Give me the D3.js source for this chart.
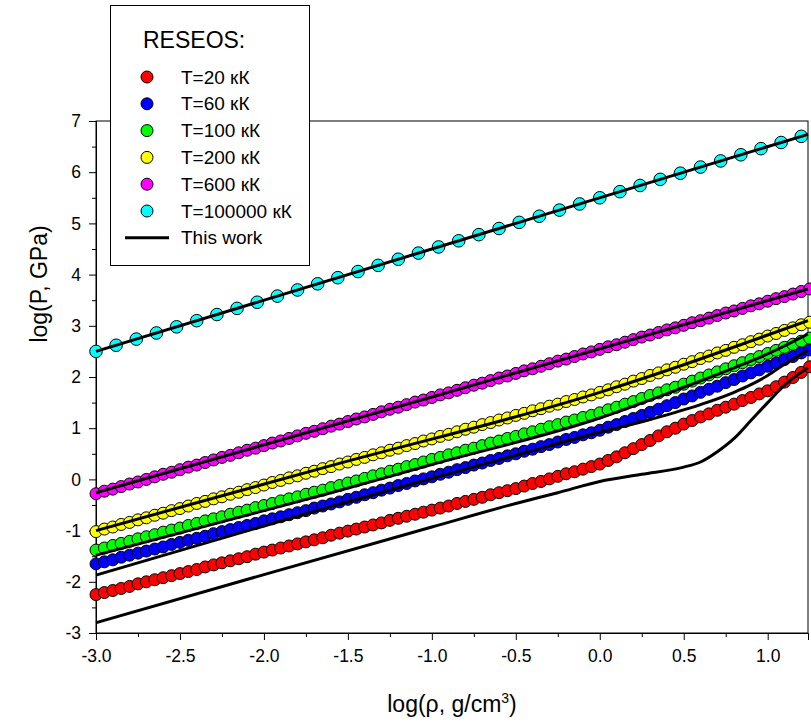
<!DOCTYPE html>
<html>
<head>
<meta charset="utf-8">
<script src="https://cdn.jsdelivr.net/npm/d3@7"></script>
<style>
  body { margin: 0; background: #fff; }
  text { font-family: "Liberation Sans", Arial, sans-serif; fill: #000; }
</style>
</head>
<body>
<svg id="chart" width="811" height="725"></svg>
<script>
// log10 density grid of the RESEOS isotherms, g/cm^3
const logRho = [
  -3.00,-2.95,-2.90,-2.85,-2.80,-2.75,-2.70,-2.65,-2.60,-2.55,-2.50,-2.45,-2.40,-2.35,-2.30,-2.25,-2.20,-2.15,-2.10,-2.05,
  -2.00,-1.95,-1.90,-1.85,-1.80,-1.75,-1.70,-1.65,-1.60,-1.55,-1.50,-1.45,-1.40,-1.35,-1.30,-1.25,-1.20,-1.15,-1.10,-1.05,
  -1.00,-0.95,-0.90,-0.85,-0.80,-0.75,-0.70,-0.65,-0.60,-0.55,-0.50,-0.45,-0.40,-0.35,-0.30,-0.25,-0.20,-0.15,-0.10,-0.05,
   0.00, 0.05, 0.10, 0.15, 0.20, 0.25, 0.30, 0.35, 0.40, 0.45, 0.50, 0.55, 0.60, 0.65, 0.70, 0.75, 0.80, 0.85, 0.90, 0.95,
   1.00, 1.05, 1.10, 1.15, 1.20, 1.25
];

// log10 pressure (GPa), RESEOS isotherms
const p20 = [
  -2.25,-2.21,-2.17,-2.13,-2.09,-2.04,-2.00,-1.96,-1.92,-1.88,-1.84,-1.80,-1.76,-1.71,-1.67,-1.63,-1.59,-1.55,-1.51,-1.46,
  -1.42,-1.38,-1.34,-1.30,-1.26,-1.22,-1.18,-1.14,-1.09,-1.05,-1.01,-0.97,-0.93,-0.89,-0.85,-0.80,-0.76,-0.72,-0.68,-0.64,
  -0.60,-0.56,-0.52,-0.47,-0.43,-0.39,-0.35,-0.30,-0.26,-0.22,-0.18,-0.13,-0.08,-0.04, 0.01, 0.06, 0.11, 0.15, 0.20, 0.25,
   0.30, 0.37, 0.44, 0.52, 0.60, 0.68, 0.76, 0.85, 0.93, 1.00, 1.08, 1.15, 1.22, 1.28, 1.35, 1.41, 1.47, 1.54, 1.60, 1.67,
   1.73, 1.81, 1.90, 1.99, 2.09, 2.20
];
const p60 = [
  -1.65,-1.61,-1.57,-1.52,-1.48,-1.44,-1.40,-1.36,-1.32,-1.27,-1.23,-1.19,-1.15,-1.11,-1.06,-1.02,-0.98,-0.94,-0.90,-0.86,
  -0.81,-0.77,-0.73,-0.69,-0.65,-0.61,-0.56,-0.52,-0.48,-0.44,-0.39,-0.35,-0.30,-0.26,-0.21,-0.17,-0.12,-0.08,-0.03, 0.01,
   0.05, 0.10, 0.14, 0.19, 0.23, 0.28, 0.32, 0.37, 0.41, 0.46, 0.50, 0.55, 0.59, 0.64, 0.68, 0.73, 0.78, 0.82, 0.87, 0.91,
   0.96, 1.02, 1.07, 1.13, 1.19, 1.25, 1.31, 1.37, 1.44, 1.50, 1.57, 1.63, 1.70, 1.76, 1.82, 1.89, 1.95, 2.02, 2.08, 2.14,
   2.21, 2.27, 2.34, 2.40, 2.47, 2.53
];
const p100 = [
  -1.38,-1.34,-1.29,-1.25,-1.21,-1.16,-1.12,-1.08,-1.03,-0.99,-0.95,-0.90,-0.86,-0.81,-0.77,-0.73,-0.68,-0.64,-0.60,-0.55,
  -0.51,-0.47,-0.42,-0.38,-0.34,-0.29,-0.25,-0.21,-0.16,-0.12,-0.07,-0.03, 0.02, 0.07, 0.11, 0.16, 0.20, 0.25, 0.29, 0.34,
   0.39, 0.43, 0.48, 0.52, 0.57, 0.61, 0.66, 0.71, 0.75, 0.80, 0.84, 0.89, 0.93, 0.98, 1.03, 1.07, 1.12, 1.16, 1.21, 1.25,
   1.30, 1.36, 1.41, 1.47, 1.52, 1.58, 1.64, 1.69, 1.75, 1.80, 1.86, 1.92, 1.98, 2.04, 2.10, 2.16, 2.22, 2.28, 2.34, 2.40,
   2.46, 2.52, 2.58, 2.64, 2.70, 2.76
];
const p200 = [
  -1.02,-0.97,-0.93,-0.88,-0.84,-0.79,-0.75,-0.70,-0.66,-0.61,-0.57,-0.52,-0.47,-0.43,-0.38,-0.34,-0.29,-0.25,-0.20,-0.16,
  -0.11,-0.06,-0.02, 0.03, 0.07, 0.12, 0.16, 0.21, 0.25, 0.30, 0.34, 0.39, 0.43, 0.48, 0.52, 0.57, 0.61, 0.66, 0.70, 0.75,
   0.79, 0.84, 0.88, 0.93, 0.98, 1.02, 1.07, 1.11, 1.16, 1.20, 1.25, 1.29, 1.34, 1.38, 1.43, 1.47, 1.52, 1.56, 1.61, 1.65,
   1.70, 1.75, 1.81, 1.86, 1.92, 1.97, 2.03, 2.08, 2.14, 2.19, 2.25, 2.30, 2.36, 2.41, 2.47, 2.52, 2.58, 2.63, 2.69, 2.74,
   2.80, 2.85, 2.91, 2.96, 3.02, 3.07
];
const p600 = [
  -0.28,-0.23,-0.19,-0.14,-0.09,-0.05, 0.00, 0.05, 0.10, 0.14, 0.19, 0.24, 0.28, 0.33, 0.38, 0.43, 0.47, 0.52, 0.57, 0.61,
   0.66, 0.71, 0.75, 0.80, 0.85, 0.90, 0.94, 0.99, 1.04, 1.08, 1.13, 1.18, 1.22, 1.27, 1.32, 1.37, 1.41, 1.46, 1.51, 1.55,
   1.60, 1.65, 1.69, 1.74, 1.79, 1.84, 1.88, 1.93, 1.98, 2.02, 2.07, 2.12, 2.16, 2.21, 2.26, 2.31, 2.35, 2.40, 2.45, 2.49,
   2.54, 2.59, 2.63, 2.68, 2.73, 2.78, 2.82, 2.87, 2.92, 2.96, 3.01, 3.06, 3.10, 3.15, 3.20, 3.25, 3.29, 3.34, 3.39, 3.43,
   3.48, 3.53, 3.57, 3.62, 3.67, 3.72
];

// the 100000 kK isotherm is tabulated on a coarser grid
const logRhoHot = [
  -3.00,-2.88,-2.76,-2.64,-2.52,-2.40,-2.28,-2.16,-2.04,-1.92,-1.80,-1.68,-1.56,-1.44,-1.32,-1.20,-1.08,-0.96,
  -0.84,-0.72,-0.60,-0.48,-0.36,-0.24,-0.12, 0.00, 0.12, 0.24, 0.36, 0.48, 0.60, 0.72, 0.84, 0.96, 1.08, 1.20
];
const p100000 = [
   2.50, 2.62, 2.74, 2.86, 2.98, 3.10, 3.22, 3.34, 3.46, 3.58, 3.70, 3.82, 3.94, 4.06, 4.18, 4.30, 4.42, 4.54,
   4.66, 4.78, 4.90, 5.02, 5.14, 5.26, 5.38, 5.50, 5.62, 5.74, 5.86, 5.98, 6.10, 6.22, 6.34, 6.46, 6.58, 6.70
];

// "This work" isotherms
const fit20Rho   = [-3.00,-2.00,-1.00,-0.50,-0.25, 0.00, 0.25, 0.50, 0.60, 0.70, 0.80, 0.90, 1.00, 1.10, 1.24];
const fit20P     = [-2.80,-1.86,-0.93,-0.47,-0.26,-0.04, 0.10, 0.24, 0.34, 0.54, 0.80, 1.15, 1.50, 1.84, 2.18];
const fit60Rho   = [-3.00,-2.00,-1.60,-1.00,-0.50, 0.00, 0.30, 0.60, 0.80, 0.90, 1.00, 1.10, 1.24];
const fit60P     = [-1.87,-0.91,-0.53, 0.02, 0.47, 0.92, 1.17, 1.46, 1.70, 1.85, 2.03, 2.25, 2.52];
const fit100Rho  = [-3.00,-2.00,-1.60,-1.00, 0.00, 0.50, 0.80, 1.00, 1.24];
const fit100P    = [-1.48,-0.61,-0.26, 0.29, 1.20, 1.80, 2.18, 2.45, 2.84];
const fit200Rho  = [-3.00,-1.60, 0.00, 0.50, 1.00, 1.24];
const fit200P    = [-1.00, 0.27, 1.70, 2.24, 2.82, 3.10];
const fit600Rho  = [-3.00,-1.00, 1.24];
const fit600P    = [-0.26, 1.61, 3.72];
const fit1e5Rho  = [-3.00, 1.24];
const fit1e5P    = [ 2.50, 6.74];

const seriesLabels = ["T=20 кК", "T=60 кК", "T=100 кК", "T=200 кК", "T=600 кК", "T=100000 кК"];
const seriesColors = ["#ff0000", "#0000ff", "#00ff00", "#ffff00", "#ff00ff", "#00ffff"];

const xMajor = [-3.0, -2.5, -2.0, -1.5, -1.0, -0.5, 0.0, 0.5, 1.0];
const xMajorLabels = ["-3.0", "-2.5", "-2.0", "-1.5", "-1.0", "-0.5", "0.0", "0.5", "1.0"];
const xMinor = [-2.75, -2.25, -1.75, -1.25, -0.75, -0.25, 0.25, 0.75];
const yMajor = [-3, -2, -1, 0, 1, 2, 3, 4, 5, 6, 7];
const yMajorLabels = ["-3", "-2", "-1", "0", "1", "2", "3", "4", "5", "6", "7"];
const yMinor = [-2.5, -1.5, -0.5, 0.5, 1.5, 2.5, 3.5, 4.5, 5.5, 6.5];

const svg = d3.select("#chart");
const x = d3.scaleLinear().domain([-3, 1.24]).range([96, 808]);
const y = d3.scaleLinear().domain([-3, 7]).range([633, 121]);

// frame
svg.append("rect")
  .attr("x", x(-3)).attr("y", y(7))
  .attr("width", x(1.24) - x(-3)).attr("height", y(-3) - y(7))
  .attr("fill", "none").attr("stroke", "#000").attr("stroke-width", 1);

// axes
const gx = svg.append("g").attr("transform", `translate(0,${y(-3)})`);
gx.call(d3.axisBottom(x).tickValues(xMajor).tickSize(7).tickPadding(10)
  .tickFormat((d, i) => xMajorLabels[i]));
gx.append("g").call(d3.axisBottom(x).tickValues(xMinor).tickSize(4).tickFormat(""));
const gy = svg.append("g").attr("transform", `translate(${x(-3)},0)`);
gy.call(d3.axisLeft(y).tickValues(yMajor).tickSize(7).tickPadding(8)
  .tickFormat((d, i) => yMajorLabels[i]));
gy.append("g").call(d3.axisLeft(y).tickValues(yMinor).tickSize(4).tickFormat(""));
svg.selectAll(".domain").attr("stroke", "#000");
svg.selectAll(".tick line").attr("stroke", "#000");
svg.selectAll(".tick text").style("font-size", "17.5px")
  .style("font-family", '"Liberation Sans", Arial, sans-serif');

// axis titles
svg.append("text")
  .attr("transform", `translate(47,${284}) rotate(-90)`)
  .attr("text-anchor", "middle")
  .style("font-size", "23px")
  .text("log(P, GPa)");
const xt = svg.append("text")
  .attr("x", 452).attr("y", 712)
  .attr("text-anchor", "middle")
  .style("font-size", "23px");
xt.append("tspan").text("log(ρ, g/cm");
xt.append("tspan").attr("dy", -9).style("font-size", "14px").text("3");
xt.append("tspan").attr("dy", 9).text(")");

// RESEOS markers
const markerSets = [
  { rho: logRho, p: p20, r: 6 },
  { rho: logRho, p: p60, r: 6 },
  { rho: logRho, p: p100, r: 6 },
  { rho: logRho, p: p200, r: 6 },
  { rho: logRho, p: p600, r: 6 },
  { rho: logRhoHot, p: p100000, r: 6.3 }
];
markerSets.forEach((s, k) => {
  svg.append("g").selectAll("circle")
    .data(s.rho.map((r, i) => [r, s.p[i]]))
    .join("circle")
    .attr("cx", d => x(d[0])).attr("cy", d => y(d[1]))
    .attr("r", s.r)
    .attr("fill", seriesColors[k])
    .attr("stroke", "#000").attr("stroke-width", 1);
});

// model curves
const fits = [
  [fit20Rho, fit20P], [fit60Rho, fit60P], [fit100Rho, fit100P],
  [fit200Rho, fit200P], [fit600Rho, fit600P], [fit1e5Rho, fit1e5P]
];
const line = d3.line().x(d => x(d[0])).y(d => y(d[1])).curve(d3.curveMonotoneX);
fits.forEach(([r, p]) => {
  svg.append("path")
    .datum(r.map((v, i) => [v, p[i]]))
    .attr("d", line)
    .attr("fill", "none").attr("stroke", "#000").attr("stroke-width", 3);
});

// legend
const lg = svg.append("g");
lg.append("rect").attr("x", 110.5).attr("y", 5.5).attr("width", 199).attr("height", 260)
  .attr("fill", "#fff").attr("stroke", "#000").attr("stroke-width", 1);
lg.append("text").attr("x", 143).attr("y", 48).style("font-size", "23px").text("RESEOS:");
seriesLabels.forEach((lab, i) => {
  const cy = 77 + i * 26.8;
  lg.append("circle").attr("cx", 147).attr("cy", cy).attr("r", 6)
    .attr("fill", seriesColors[i]).attr("stroke", "#000").attr("stroke-width", 1);
  lg.append("text").attr("x", 181).attr("y", cy + 6.5).style("font-size", "19px").text(lab);
});
const ly = 77 + 6 * 26.8;
lg.append("line").attr("x1", 125).attr("x2", 169).attr("y1", ly).attr("y2", ly)
  .attr("stroke", "#000").attr("stroke-width", 3);
lg.append("text").attr("x", 181).attr("y", ly + 6.5).style("font-size", "19px").text("This work");
</script>
</body>
</html>
